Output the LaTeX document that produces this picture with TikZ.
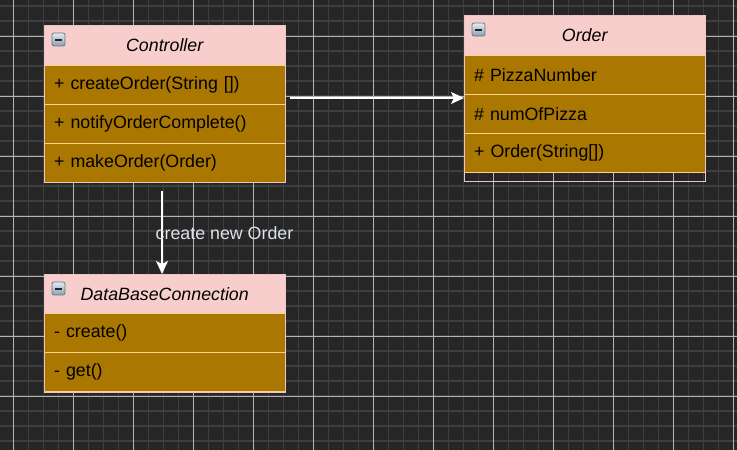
\documentclass[tikz,border=0pt]{standalone}
\usepackage{fontspec}
\setmainfont{Liberation Sans}
\usetikzlibrary{arrows.meta}
\definecolor{bgc}{HTML}{262626}
\definecolor{minorc}{HTML}{3E3E3E}
\definecolor{majorc}{HTML}{B4B4B4}
\definecolor{hdrfill}{HTML}{F8CECC}
\definecolor{outerc}{HTML}{EFC4C4}
\definecolor{rowfill}{HTML}{AA7700}
\definecolor{rowstroke}{HTML}{FFD08A}
\definecolor{labelc}{HTML}{DCE2E8}
\definecolor{iconstroke}{HTML}{66788A}
\definecolor{icontop}{HTML}{E4EAF0}
\definecolor{iconbot}{HTML}{8C9EB0}
\definecolor{iconmark}{HTML}{1E262E}
\newcommand{\fsz}{\fontsize{17.8}{20}\selectfont}
\begin{document}
\begin{tikzpicture}[x=1pt,y=-1pt,
  minorline/.style={draw=minorc, line width=1.4},
  majorline/.style={draw=majorc, line width=0.9},
  hdr/.style={draw=outerc, fill=hdrfill, anchor=north west, minimum width=241, minimum height=40, inner sep=0, font=\itshape\fsz, text=black},
  rowbox/.style={draw=rowstroke, fill=rowfill, anchor=north west, minimum width=241, minimum height=39, text width=221, inner xsep=10, inner ysep=0, align=left, font=\fsz, text=black},
  classbox/.style={draw=outerc, line width=0.8, anchor=north west, minimum width=241, inner sep=0},
  icon/.style={draw=iconstroke, line width=0.8, rounded corners=2, minimum width=13, minimum height=13, inner sep=0, top color=icontop, bottom color=iconbot,
    path picture={\draw[iconmark, line width=2] ([xshift=3.2pt]path picture bounding box.west) -- ([xshift=-3.2pt]path picture bounding box.east);}},
  arr/.style={draw=white, line width=1.5, -{Stealth[length=13pt, width=12pt, inset=3pt]}},
  lbl/.style={text=labelc, font=\fsz, inner sep=0}
]
\useasboundingbox (0,0) rectangle (737,450);
\fill[bgc] (0,0) rectangle (737,450);
\foreach \i in {0,...,48} \draw[minorline] ({13.33+15*\i},0) -- ({13.33+15*\i},450);
\foreach \j in {0,...,29} \draw[minorline] (0,{6+15*\j}) -- (737,{6+15*\j});
\foreach \i in {0,...,12} \draw[majorline] ({13.33+60*\i},0) -- ({13.33+60*\i},450);
\foreach \j in {0,...,6} \draw[majorline] (0,{36+60*\j}) -- (737,{36+60*\j});

% Controller
\node[hdr] (ctrlH) at (44,25) {Controller};
\node[rowbox] (ctrlR1) at (44,65) {+ createOrder(String [])};
\node[rowbox] (ctrlR2) at (44,104) {+ notifyOrderComplete()};
\node[rowbox] (ctrlR3) at (44,143) {+ makeOrder(Order)};
\node[classbox, minimum height=157] (ctrl) at (44,25) {};
\node[icon] (ctrlI) at (58.5,39.5) {};

% Order
\node[hdr] (ordH) at (464,15) {Order};
\node[rowbox] (ordR1) at (464,55) {\# PizzaNumber};
\node[rowbox] (ordR2) at (464,94) {\# numOfPizza};
\node[rowbox] (ordR3) at (464,133) {+ Order(String[])};
\node[classbox, minimum height=166] (order) at (464,15) {};
\node[icon] (ordI) at (478.5,29.5) {};

% DataBaseConnection
\node[hdr] (dbH) at (44,274) {DataBaseConnection};
\node[rowbox] (dbR1) at (44,313) {- create()};
\node[rowbox] (dbR2) at (44,352) {- get()};
\node[classbox, minimum height=118] (db) at (44,274) {};
\node[icon] (dbI) at (58.5,288.5) {};

% connectors
\coordinate (p1) at (290,98);
\draw[arr] (p1) -- (p1 -| order.west);
\coordinate (p2) at (162,191);
\draw[arr] (p2) -- (p2 |- db.north);
\node[lbl] (lab) at (224.5,233) {create new Order};
\end{tikzpicture}
\end{document}
